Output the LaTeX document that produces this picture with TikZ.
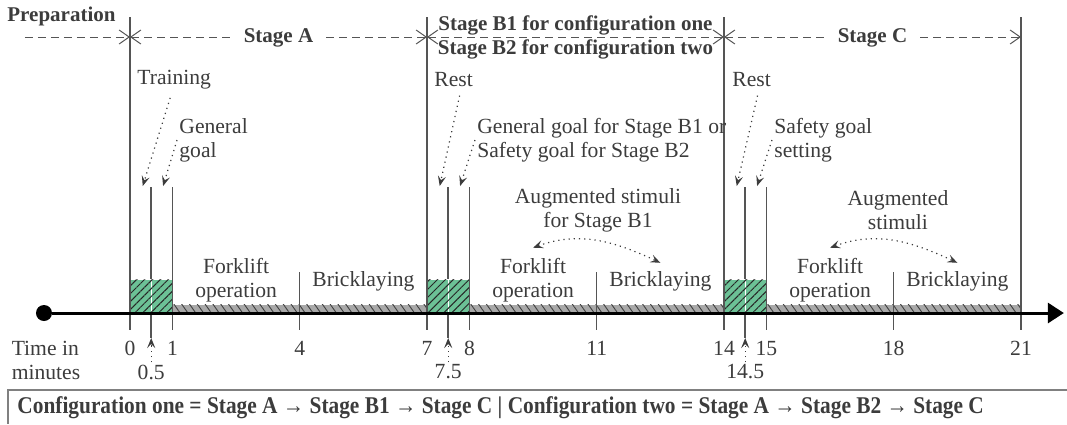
\documentclass[tikz,border=0pt]{standalone}
\usepackage{fontspec}
\setmainfont{Liberation Serif}
\newfontfamily\condfont[FakeStretch=0.89]{Liberation Serif}
\usepackage{tikz}
\usetikzlibrary{arrows.meta,patterns.meta,positioning}
\definecolor{linegray}{RGB}{85,85,85}
\definecolor{textgray}{RGB}{60,60,60}
\definecolor{restgreen}{RGB}{108,193,150}
\definecolor{bargray}{RGB}{168,168,168}
\tikzstyle{note} = [text=textgray, inner sep=1pt, align=left]
\tikzstyle{stagename} = [text=textgray, inner sep=1pt, font=\fontsize{10.5}{12}\selectfont\bfseries]
\tikzstyle{bound} = [draw=linegray, line width=0.75pt]
\tikzstyle{phase} = [draw=linegray, line width=0.5pt, dash pattern=on 4pt off 2.5pt]
\tikzstyle{hint} = [draw=textgray, line width=0.6pt, dotted]
\tikzstyle{restblock} = [draw=white, line width=0.4pt, fill=restgreen,
  postaction={pattern={Lines[angle=45,distance=2.8pt,line width=0.5pt]}, pattern color=black!85}]
\tikzstyle{workbar} = [draw=white, line width=0.4pt, fill=bargray,
  postaction={pattern={Lines[angle=-55,distance=3.2pt,line width=0.45pt]}, pattern color=black!75}]

\begin{document}
\begin{tikzpicture}[x=21.214pt, y=0.5pt, font=\fontsize{10.8}{12}\selectfont,
  barb/.tip={Straight Barb[length=5pt,width=7pt,line width=0.5pt]},
  stealthtip/.tip={Stealth[length=5pt,width=4pt,inset=2pt]}]
\useasboundingbox (-3.064,0) rectangle (22.084,-424);

% blocks on the time line
\foreach \t in {0,7,14} {
  \draw[restblock] (\t,-279) rectangle (\t+0.5,-313);
  \draw[restblock] (\t+0.5,-279) rectangle (\t+1,-313);
}
\foreach \a/\b in {1/4,4/7,8/11,11/14,15/18,18/21}
  \draw[workbar] (\a,-304) rectangle (\b,-313);

% vertical marks
\foreach \t in {0,7,14,21} \draw[bound] (\t,-17) -- (\t,-330);
\foreach \t in {4,11,18} \draw[bound] (\t,-272) -- (\t,-330);
\foreach \t in {0,7,14} {
  \draw[bound] (\t+0.5,-187) -- (\t+0.5,-279);
  \draw[bound] (\t+0.5,-313) -- (\t+0.5,-338);
  \draw[bound] (\t+1,-187) -- (\t+1,-330);
  \coordinate (r\t) at (\t+0.3,-186);
  \coordinate (g\t) at (\t+0.78,-186);
  \coordinate (b\t) at (\t+0.5,-338);
}

% time axis
\node[circle, fill=black, inner sep=0pt, minimum size=8pt] (start) at (-2.027,-313) {};
\coordinate (end) at (22.01,-313);
\draw[line width=1.5pt, -{Triangle[length=8pt,width=10pt]}] (start) -- (end);

% tick numbers
\foreach \t in {0,1,4,7,8,11,14,15,18,21}
  \node[note] (n\t) at (\t,-348) {\t};
\node[note] (h0) at (0.5,-372) {0.5};
\node[note] (h7) at (7.5,-372) {7.5};
\node[note] (h14) at (14.5,-372) {14.5};
\draw[hint, -stealthtip] (h0) -- (b0);
\draw[hint, -stealthtip] (h7) -- (b7);
\draw[hint, -stealthtip] (h14) -- (b14);
\node[note] (timelbl) at (-1.98,-360) {Time in\\minutes};

% stages
\coordinate (p0) at (-2.475,-37);
\foreach \t in {0,7,14,21} \coordinate (s\t) at (\t,-37);
\draw[phase, -barb] (p0) -- (s0);
\draw[phase, barb-barb] (s0) -- (s7);
\draw[phase, barb-barb] (s7) -- (s14);
\draw[phase, barb-barb] (s14) -- (s21);
\node[stagename, anchor=west] (prep) at (-2.946,-16) {Preparation};
\node[stagename, fill=white, inner xsep=5pt] (stA) at (3.5,-38) {Stage A};
\node[stagename] (stB1) at (10.5,-25) {Stage B1 for configuration one};
\node[stagename] (stB2) at (10.5,-49) {Stage B2 for configuration two};
\node[stagename, fill=white, inner xsep=5pt] (stC) at (17.5,-38) {Stage C};

% rest and goal setting
\node[note, anchor=west] (train) at (0.118,-80) {Training};
\node[note, anchor=west] (goalA) at (1.108,-140) {General\\goal};
\node[note, anchor=west] (restB) at (7.118,-80) {Rest};
\node[note, anchor=west] (goalB) at (8.13,-140) {General goal for Stage B1 or\\Safety goal for Stage B2};
\node[note, anchor=west] (restC) at (14.14,-80) {Rest};
\node[note, anchor=west] (goalC) at (15.13,-140) {Safety goal\\setting};
\draw[hint, -stealthtip] ([xshift=-2pt,yshift=-3pt]train.south) -- (r0);
\draw[hint, -stealthtip] (goalA.west) -- (g0);
\draw[hint, -stealthtip] ([xshift=3pt,yshift=-3pt]restB.south) -- (r7);
\draw[hint, -stealthtip] (goalB.west) -- (g7);
\draw[hint, -stealthtip] ([xshift=3pt,yshift=-3pt]restC.south) -- (r14);
\draw[hint, -stealthtip] (goalC.west) -- (g14);

% tasks
\node[note, align=center] (forkA) at (2.5,-280) {Forklift\\operation};
\node[note] (brickA) at (5.5,-281) {Bricklaying};
\node[note, align=center] (forkB) at (9.5,-280) {Forklift\\operation};
\node[note] (brickB) at (12.5,-281) {Bricklaying};
\node[note, align=center] (forkC) at (16.5,-280) {Forklift\\operation};
\node[note] (brickC) at (19.5,-281) {Bricklaying};

% augmented stimuli
\node[note, align=center] (augB) at (11.03,-210) {Augmented stimuli\\for Stage B1};
\node[note, align=center] (augC) at (18.1,-210) {Augmented\\stimuli};
\draw[hint, stealthtip-stealthtip] ([yshift=4pt]forkB.north) to[out=20, in=155] ([yshift=3pt]brickB.north);
\draw[hint, stealthtip-stealthtip] ([yshift=4pt]forkC.north) to[out=20, in=155] ([yshift=3pt]brickC.north);

% configurations
\draw[draw=gray, line width=0.75pt] (22.084,-390) -- (-2.875,-390) -- (-2.875,-424);
\node[note, anchor=west, font=\fontsize{12}{13}\condfont\bfseries] (config) at (-2.71,-408)
  {Configuration one = Stage A → Stage B1 → Stage C | Configuration two = Stage A → Stage B2 → Stage C};
\end{tikzpicture}
\end{document}
